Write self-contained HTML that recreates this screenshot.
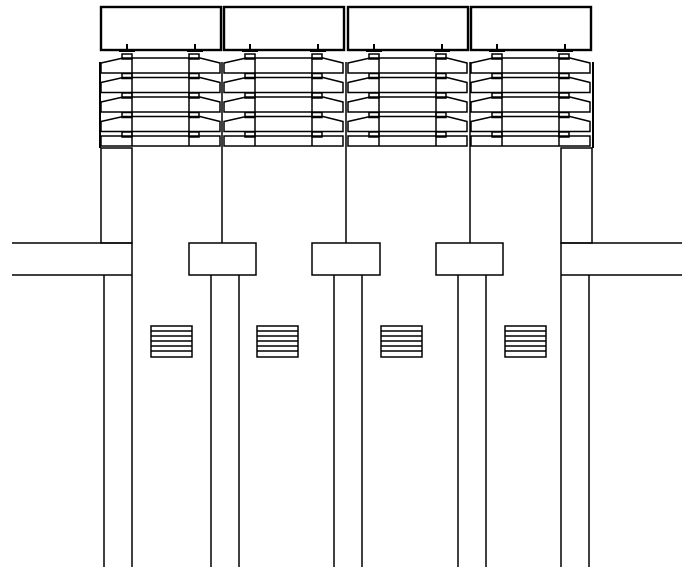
<!DOCTYPE html>
<html><head><style>html,body{margin:0;padding:0;background:#fff}svg{display:block}</style></head><body>
<svg width="690" height="579" viewBox="0 0 690 579" xmlns="http://www.w3.org/2000/svg" fill="none" stroke="#000" stroke-width="1.5">
<defs>
<g id="m">
  <rect x="0" y="7" width="120" height="43" stroke-width="2.4"/>
  <line x1="26" y1="44" x2="26" y2="51" stroke-width="2"/>
  <line x1="94" y1="44" x2="94" y2="51" stroke-width="2"/>
  <line x1="18" y1="51" x2="34" y2="51" stroke-width="2"/>
  <line x1="86" y1="51" x2="102" y2="51" stroke-width="2"/>
  <line x1="31" y1="58" x2="31" y2="146"/>
  <line x1="88" y1="58" x2="88" y2="146"/>
  <g id="b">
    <path d="M0,63 L22,58 L99,58 L119,63 V73 H0 Z"/>
    <rect x="21" y="54" width="10" height="5"/>
    <rect x="88" y="54" width="10" height="5"/>
  </g>
  <use href="#b" y="19.5"/>
  <use href="#b" y="39"/>
  <use href="#b" y="58.5"/>
  <rect x="21" y="132" width="10" height="5"/>
  <rect x="88" y="132" width="10" height="5"/>
  <rect x="0" y="136" width="119" height="10"/>
</g>
<g id="v">
  <rect x="0" y="326" width="41" height="31"/>
  <line x1="0" y1="331" x2="41" y2="331"/><line x1="0" y1="336" x2="41" y2="336"/>
  <line x1="0" y1="341" x2="41" y2="341"/><line x1="0" y1="346" x2="41" y2="346"/>
  <line x1="0" y1="351" x2="41" y2="351"/>
</g>
</defs>
<use href="#m" x="101"/>
<use href="#m" x="224"/>
<use href="#m" x="348"/>
<use href="#m" x="471"/>
<line x1="100" y1="62" x2="100" y2="148" stroke-width="2"/>
<line x1="593" y1="62" x2="593" y2="148" stroke-width="2"/>
<line x1="222" y1="62" x2="222" y2="243"/>
<line x1="346" y1="62" x2="346" y2="243"/>
<line x1="470" y1="62" x2="470" y2="243"/>
<rect x="101" y="148" width="31" height="95"/>
<rect x="561" y="148" width="31" height="95"/>
<polyline points="12,243 132,243 132,567"/>
<line x1="12" y1="275" x2="132" y2="275"/>
<polyline points="682,243 561,243 561,567"/>
<line x1="561" y1="275" x2="682" y2="275"/>
<line x1="104" y1="275" x2="104" y2="567"/>
<line x1="589" y1="275" x2="589" y2="567"/>
<rect x="189" y="243" width="67" height="32"/>
<rect x="312" y="243" width="68" height="32"/>
<rect x="436" y="243" width="67" height="32"/>
<line x1="211" y1="275" x2="211" y2="567"/><line x1="239" y1="275" x2="239" y2="567"/>
<line x1="334" y1="275" x2="334" y2="567"/><line x1="362" y1="275" x2="362" y2="567"/>
<line x1="458" y1="275" x2="458" y2="567"/><line x1="486" y1="275" x2="486" y2="567"/>
<use href="#v" x="151"/>
<use href="#v" x="257"/>
<use href="#v" x="381"/>
<use href="#v" x="505"/>
</svg>
</body></html>
